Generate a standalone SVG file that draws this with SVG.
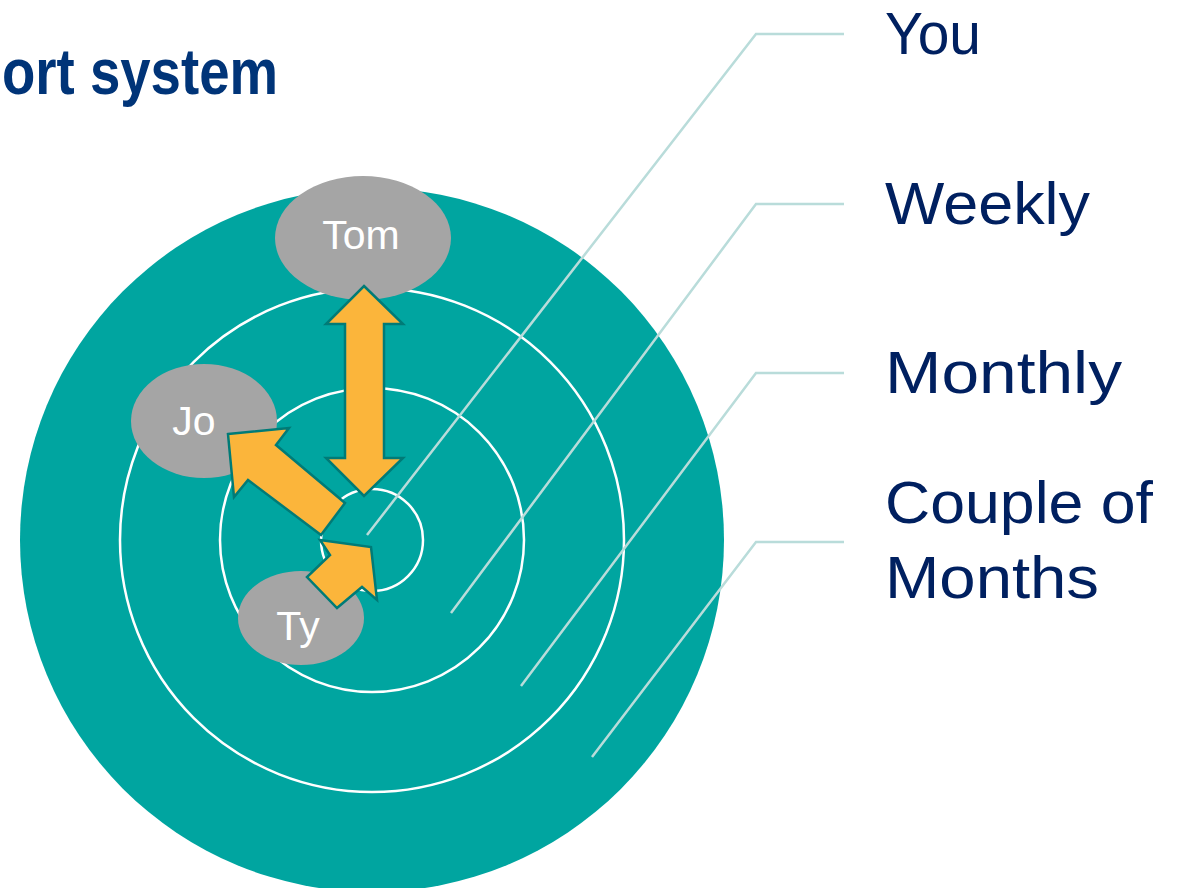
<svg xmlns="http://www.w3.org/2000/svg" width="1182" height="888" viewBox="0 0 1182 888">
  <style>
    .ring { fill: none; stroke: #ffffff; stroke-width: 2.5; }
    .node { fill: #a5a5a5; }
    .nodetext { font-family: "Liberation Sans", Arial, sans-serif; font-size: 41px; fill: #ffffff; text-anchor: middle; }
    .arrow { fill: #fbb53b; stroke: #007b77; stroke-width: 2.5; stroke-linejoin: miter; }
    .leader { fill: none; stroke: #b9dcda; stroke-width: 2.5; }
    .label { font-family: "Liberation Sans", Arial, sans-serif; font-size: 60px; fill: #002060; }
    .title { font-family: "Liberation Sans", Arial, sans-serif; font-size: 64px; font-weight: bold; fill: #003478; }
  </style>
  <rect width="1182" height="888" fill="#ffffff"/>
  <text class="title" x="2" y="94" textLength="276" lengthAdjust="spacingAndGlyphs">ort system</text>

  <g id="rings">
    <circle cx="372" cy="540" r="352" fill="#00a5a0"/>
    <circle class="ring" cx="372" cy="540" r="252"/>
    <circle class="ring" cx="372" cy="540" r="152"/>
    <circle class="ring" cx="372" cy="540" r="51"/>
  </g>

  <g id="connectors">
    <polyline class="leader" points="367,535 756,34 844,34"/>
    <polyline class="leader" points="451,613 756,204 844,204"/>
    <polyline class="leader" points="521,686 756,373 844,373"/>
    <polyline class="leader" points="592,757 756,542 844,542"/>
  </g>

  <g id="node-tom">
    <ellipse class="node" cx="363" cy="238" rx="88" ry="62"/>
    <text class="nodetext" x="361" y="249">Tom</text>
  </g>
  <g id="node-jo">
    <ellipse class="node" cx="204" cy="421" rx="73" ry="57"/>
    <text class="nodetext" x="194" y="435">Jo</text>
  </g>
  <g id="node-ty">
    <ellipse class="node" cx="301" cy="618" rx="63" ry="47"/>
    <text class="nodetext" x="298" y="640">Ty</text>
  </g>

  <g id="arrows">
    <polygon class="arrow" points="364,286 403,324 384,324 384,458 403,458 364,496 326,458 345,458 345,324 326,324"/>
    <polygon class="arrow" points="228,434 289,428 276,445 345,503 321,535 248,480 234,497"/>
    <polygon class="arrow" points="320,540 371,547 377,600 362,587 337,608 307,577 330,555"/>
  </g>

  <g id="labels">
    <text class="label" x="885" y="54" textLength="96" lengthAdjust="spacingAndGlyphs">You</text>
    <text class="label" x="885" y="224" textLength="205" lengthAdjust="spacingAndGlyphs">Weekly</text>
    <text class="label" x="885" y="393" textLength="237" lengthAdjust="spacingAndGlyphs">Monthly</text>
    <text class="label" x="885" y="523" textLength="268" lengthAdjust="spacingAndGlyphs">Couple of</text>
    <text class="label" x="885" y="598" textLength="214" lengthAdjust="spacingAndGlyphs">Months</text>
  </g>
</svg>
